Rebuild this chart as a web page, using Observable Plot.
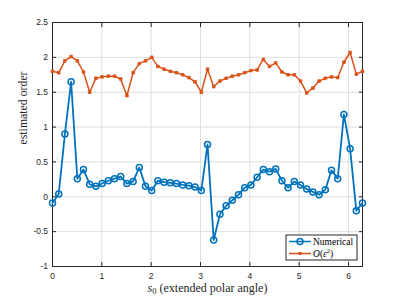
<!DOCTYPE html>
<html><head><meta charset="utf-8">
<script src="https://cdn.jsdelivr.net/npm/d3@7"></script>
<script src="https://cdn.jsdelivr.net/npm/@observablehq/plot@0.6"></script>
<style>body{margin:0;background:#fff}</style>
</head><body><div id="chart"></div>
<script>
const sGrid = [0,0.126,0.251,0.377,0.503,0.628,0.754,0.880,1.005,1.131,1.257,1.382,1.508,1.634,1.759,1.885,2.011,2.136,2.262,2.388,2.513,2.639,2.765,2.890,3.016,3.142,3.267,3.393,3.519,3.644,3.770,3.896,4.021,4.147,4.273,4.398,4.524,4.650,4.775,4.901,5.027,5.152,5.278,5.404,5.529,5.655,5.781,5.906,6.032,6.158,6.283];
const numerical = [-0.09,0.04,0.90,1.65,0.26,0.39,0.18,0.15,0.19,0.23,0.26,0.29,0.19,0.22,0.42,0.15,0.09,0.23,0.21,0.20,0.19,0.17,0.16,0.14,0.09,0.75,-0.62,-0.25,-0.13,-0.05,0.03,0.13,0.17,0.28,0.39,0.36,0.40,0.23,0.13,0.22,0.17,0.11,0.07,0.03,0.10,0.38,0.26,1.18,0.69,-0.20,-0.09];
const secondOrder = [1.80,1.78,1.95,2.01,1.95,1.79,1.50,1.70,1.72,1.73,1.73,1.69,1.45,1.78,1.91,1.95,2.00,1.87,1.83,1.80,1.78,1.75,1.71,1.65,1.50,1.83,1.58,1.66,1.70,1.73,1.75,1.78,1.81,1.82,1.97,1.87,1.92,1.79,1.75,1.75,1.66,1.49,1.56,1.66,1.70,1.72,1.71,1.93,2.07,1.76,1.80];
const xTicks = [0,1,2,3,4,5,6];
const yTicks = [-1,-0.5,0,0.5,1,1.5,2,2.5];
const seriesNames = ["Numerical", "O(ε²)"];
const xLabel = "s0 (extended polar angle)";
const yLabel = "estimated order";

const blue = "#0072BD", orange = "#D95319";
const numData = sGrid.map((s,i)=>({s, v: numerical[i]}));
const ordData = sGrid.map((s,i)=>({s, v: secondOrder[i]}));
const serif = "'Liberation Serif', 'DejaVu Serif', serif";

const chart = Plot.plot({
  width: 399, height: 299,
  marginLeft: 52, marginRight: 37, marginTop: 22, marginBottom: 33,
  x: {domain: [0, 2*Math.PI]},
  y: {domain: [-1, 2.5]},
  style: {fontFamily: "'Liberation Sans', Arial, sans-serif", fontSize: "8.5px", color: "#262626", background: "#fff"},
  marks: [
    Plot.gridX(xTicks, {stroke: "#dfdfdf", strokeOpacity: 1}),
    Plot.gridY(yTicks, {stroke: "#dfdfdf", strokeOpacity: 1}),
    Plot.axisX(xTicks, {anchor: "bottom", tickSize: -4, tickPadding: 10, label: null}),
    Plot.axisX(xTicks, {anchor: "top", tickSize: -4, tickFormat: () => "", label: null}),
    Plot.axisY(yTicks, {anchor: "left", tickSize: -4, tickPadding: 8.4, tickFormat: d => String(d), label: null}),
    Plot.axisY(yTicks, {anchor: "right", tickSize: -4, tickFormat: () => "", label: null}),
    Plot.frame({stroke: "#262626", strokeWidth: 1}),
    Plot.line(ordData, {x: "s", y: "v", stroke: orange, strokeWidth: 1.5}),
    Plot.dot(ordData, {x: "s", y: "v", symbol: "square", r: 1.5, stroke: orange, fill: orange, strokeWidth: 0.8}),
    Plot.line(numData, {x: "s", y: "v", stroke: blue, strokeWidth: 1.8}),
    Plot.dot(numData, {x: "s", y: "v", r: 3, stroke: blue, fill: "none", strokeWidth: 1.5}),
    Plot.text([xLabel], {frameAnchor: "bottom", lineAnchor: "middle", dy: 21.5, fontFamily: serif, fontSize: 12, fill: "#262626"}),
    Plot.text([yLabel], {frameAnchor: "left", lineAnchor: "middle", dx: -29, rotate: -90, fontFamily: serif, fontSize: 11.8, fill: "#262626"})
  ]
});
document.getElementById("chart").appendChild(chart);

const svg = d3.select(chart);
// italic s with subscript 0
svg.selectAll("text").filter(function(){ return this.textContent === xLabel; }).each(function(){
  const t = d3.select(this); t.text(null);
  t.append("tspan").attr("font-style","italic").text("s");
  t.append("tspan").attr("font-size","8.5px").attr("dy","2").text("0");
  t.append("tspan").attr("dy","-2").text(" (extended polar angle)");
});

// legend
const lg = svg.append("g").attr("font-family", serif).attr("font-size", 9.5).attr("fill", "#000").attr("text-anchor", "start");
lg.append("rect").attr("x", 286).attr("y", 235).attr("width", 71).attr("height", 25).attr("fill", "#fff").attr("stroke", "#262626").attr("stroke-width", 1);
const rows = [{y: 241.5, c: blue, name: seriesNames[0]}, {y: 253.5, c: orange, name: seriesNames[1]}];
rows.forEach((r, i) => {
  lg.append("line").attr("x1", 289).attr("x2", 311).attr("y1", r.y).attr("y2", r.y).attr("stroke", r.c).attr("stroke-width", 1.5);
  if (i === 0) lg.append("circle").attr("cx", 300).attr("cy", r.y).attr("r", 3).attr("fill", "none").attr("stroke", r.c).attr("stroke-width", 1.5);
  else lg.append("rect").attr("x", 298.5).attr("y", r.y - 1.5).attr("width", 3).attr("height", 3).attr("fill", r.c);
  const t = lg.append("text").attr("x", 313).attr("y", r.y).attr("dy", "0.35em").attr("text-anchor", "start");
  if (i === 0) t.text(r.name);
  else {
    t.append("tspan").attr("font-style", "italic").text("O");
    t.append("tspan").text("(");
    t.append("tspan").attr("font-style", "italic").text("ε");
    t.append("tspan").attr("font-size", "6.5px").attr("dy", "-4").text("2");
    t.append("tspan").attr("dy", "4").text(")");
  }
});
</script>
</body></html>
